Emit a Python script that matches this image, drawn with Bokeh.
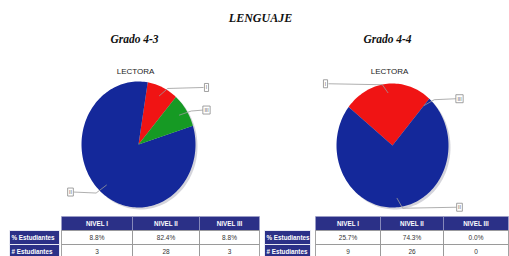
import numpy as np
from bokeh.plotting import figure
from bokeh.models import Range1d
from bokeh.core.properties import value
from bokeh.embed import file_html
from bokeh.resources import INLINE

# ---------------- data ----------------
title = "LENGUAJE"
grades = ["Grado 4-3", "Grado 4-4"]
pie_title = "LECTORA"
levels = ["I", "II", "III"]
headers = ["NIVEL I", "NIVEL II", "NIVEL III"]
row_labels = ["% Estudiantes", "# Estudiantes"]
pct_43 = [8.8, 82.4, 8.8]
n_43 = [3, 28, 3]
pct_44 = [25.7, 74.3, 0.0]
n_44 = [9, 26, 0]

# ---------------- style ----------------
slice_colors = ["#f01414", "#14289a", "#169a24"]
navy = "#2b3087"
SANS = "Liberation Sans"
SERIF = "Liberation Serif"
START_DEG = 49

W, H = 509, 256
p = figure(width=W, height=H, output_backend="svg", toolbar_location=None,
           x_range=Range1d(0, W), y_range=Range1d(H, 0), min_border=0)
p.axis.visible = False
p.grid.visible = False
p.outline_line_color = None
p.background_fill_color = "white"
p.border_fill_color = "white"

# titles
p.text(x=[260], y=[17.5], text=[title], text_font=value(SERIF), text_font_style="bold italic",
       text_font_size="12px", text_align="center", text_baseline="middle", text_color="#111")
p.text(x=[134, 387], y=[38, 38], text=grades, text_font=value(SERIF), text_font_style="bold italic",
       text_font_size="11.5px", text_align="center", text_baseline="middle", text_color="#111")


def draw_pie(cx, cy, rx, ry, pct):
    p.text(x=[cx - 3], y=[70.5], text=[pie_title], text_font=value(SANS), text_font_size="8px",
           text_align="center", text_baseline="middle", text_color="#222")
    t = np.linspace(0, 2 * np.pi, 120)
    p.patch(cx + 2 + rx * np.cos(t), cy + 2 - ry * np.sin(t), fill_color="#c9c9d2",
            line_color=None, fill_alpha=0.8)
    cum = np.radians(START_DEG)
    lead_x, lead_y, lab_x, lab_y, lab_w = [], [], [], [], []
    for i, v in enumerate(pct):
        a0 = cum
        a1 = cum + v / 100.0 * 2 * np.pi
        cum = a1
        if v > 0:
            tt = np.linspace(a0, a1, max(3, int(v * 2)))
            xs = np.concatenate([[cx], cx + rx * np.cos(tt), [cx]])
            ys = np.concatenate([[cy], cy - ry * np.sin(tt), [cy]])
            p.patch(xs, ys, fill_color=slice_colors[i], line_color=None)
        mid = (a0 + a1) / 2
        ax, ay = cx + 0.85 * rx * np.cos(mid), cy - 0.85 * ry * np.sin(mid)
        ex, ey = cx + 1.0 * rx * np.cos(mid), cy - 1.0 * ry * np.sin(mid)
        side = 1 if np.cos(mid) >= 0 else -1
        lx = cx + side * (rx + 11)
        ly = ey
        lead_x.append([ax, ex + side * 5, lx - side * 3])
        lead_y.append([ay, ly + 1, ly])
        lab_x.append(lx)
        lab_y.append(ly)
        lab_w.append(2.5 + 1.6 * len(levels[i]))
    p.multi_line(lead_x, lead_y, line_color="#9a9a9a", line_width=0.8)
    p.rect(x=lab_x, y=lab_y, width=lab_w, height=8, fill_color="white", line_color="#8a8a8a",
           line_width=0.8)
    p.text(x=lab_x, y=lab_y, text=levels, text_font=value(SANS), text_font_size="5px",
           text_align="center", text_baseline="middle", text_color="#555")


draw_pie(138, 144, 57, 63, pct_43)
draw_pie(392, 145, 56, 62, pct_44)


def draw_table(rh, cols, pct, n):
    rows = [(216, 230), (230, 244), (244, 258)]
    text_y = [223, 237, 250.5]
    # header
    p.quad(left=cols[:-1], right=cols[1:], top=[rows[0][0]] * 3, bottom=[rows[0][1]] * 3,
           fill_color=navy, line_color="#9ea0c8", line_width=0.6)
    cx = [(cols[k] + cols[k + 1]) / 2 for k in range(3)]
    p.text(x=cx, y=[text_y[0]] * 3, text=headers, text_font=value(SANS), text_font_style="bold",
           text_font_size="6.3px", text_align="center", text_baseline="middle", text_color="white")
    # row headers
    p.quad(left=[rh[0]] * 2, right=[rh[1]] * 2, top=[rows[1][0], rows[2][0]],
           bottom=[rows[1][1], rows[2][1]], fill_color=navy, line_color="white", line_width=0.8)
    p.text(x=[rh[0] + 2] * 2, y=text_y[1:], text=row_labels, text_font=value(SANS),
           text_font_style="bold", text_font_size="6.3px", text_align="left",
           text_baseline="middle", text_color="white")
    # cells
    for r in (1, 2):
        p.quad(left=cols[:-1], right=cols[1:], top=[rows[r][0]] * 3, bottom=[rows[r][1]] * 3,
               fill_color="white", line_color="#8c8c8c", line_width=0.8)
    p.text(x=cx, y=[text_y[1]] * 3, text=[f"{v:.1f}%" for v in pct], text_font=value(SANS),
           text_font_size="6.5px", text_align="center", text_baseline="middle", text_color="#333")
    p.text(x=cx, y=[text_y[2]] * 3, text=[str(v) for v in n], text_font=value(SANS),
           text_font_size="6.5px", text_align="center", text_baseline="middle", text_color="#333")


draw_table((9, 59), [61, 132, 199, 259], pct_43, n_43)
draw_table((264, 310), [315, 380, 443, 508], pct_44, n_44)

open("out.html", "w").write(file_html(p, INLINE))
